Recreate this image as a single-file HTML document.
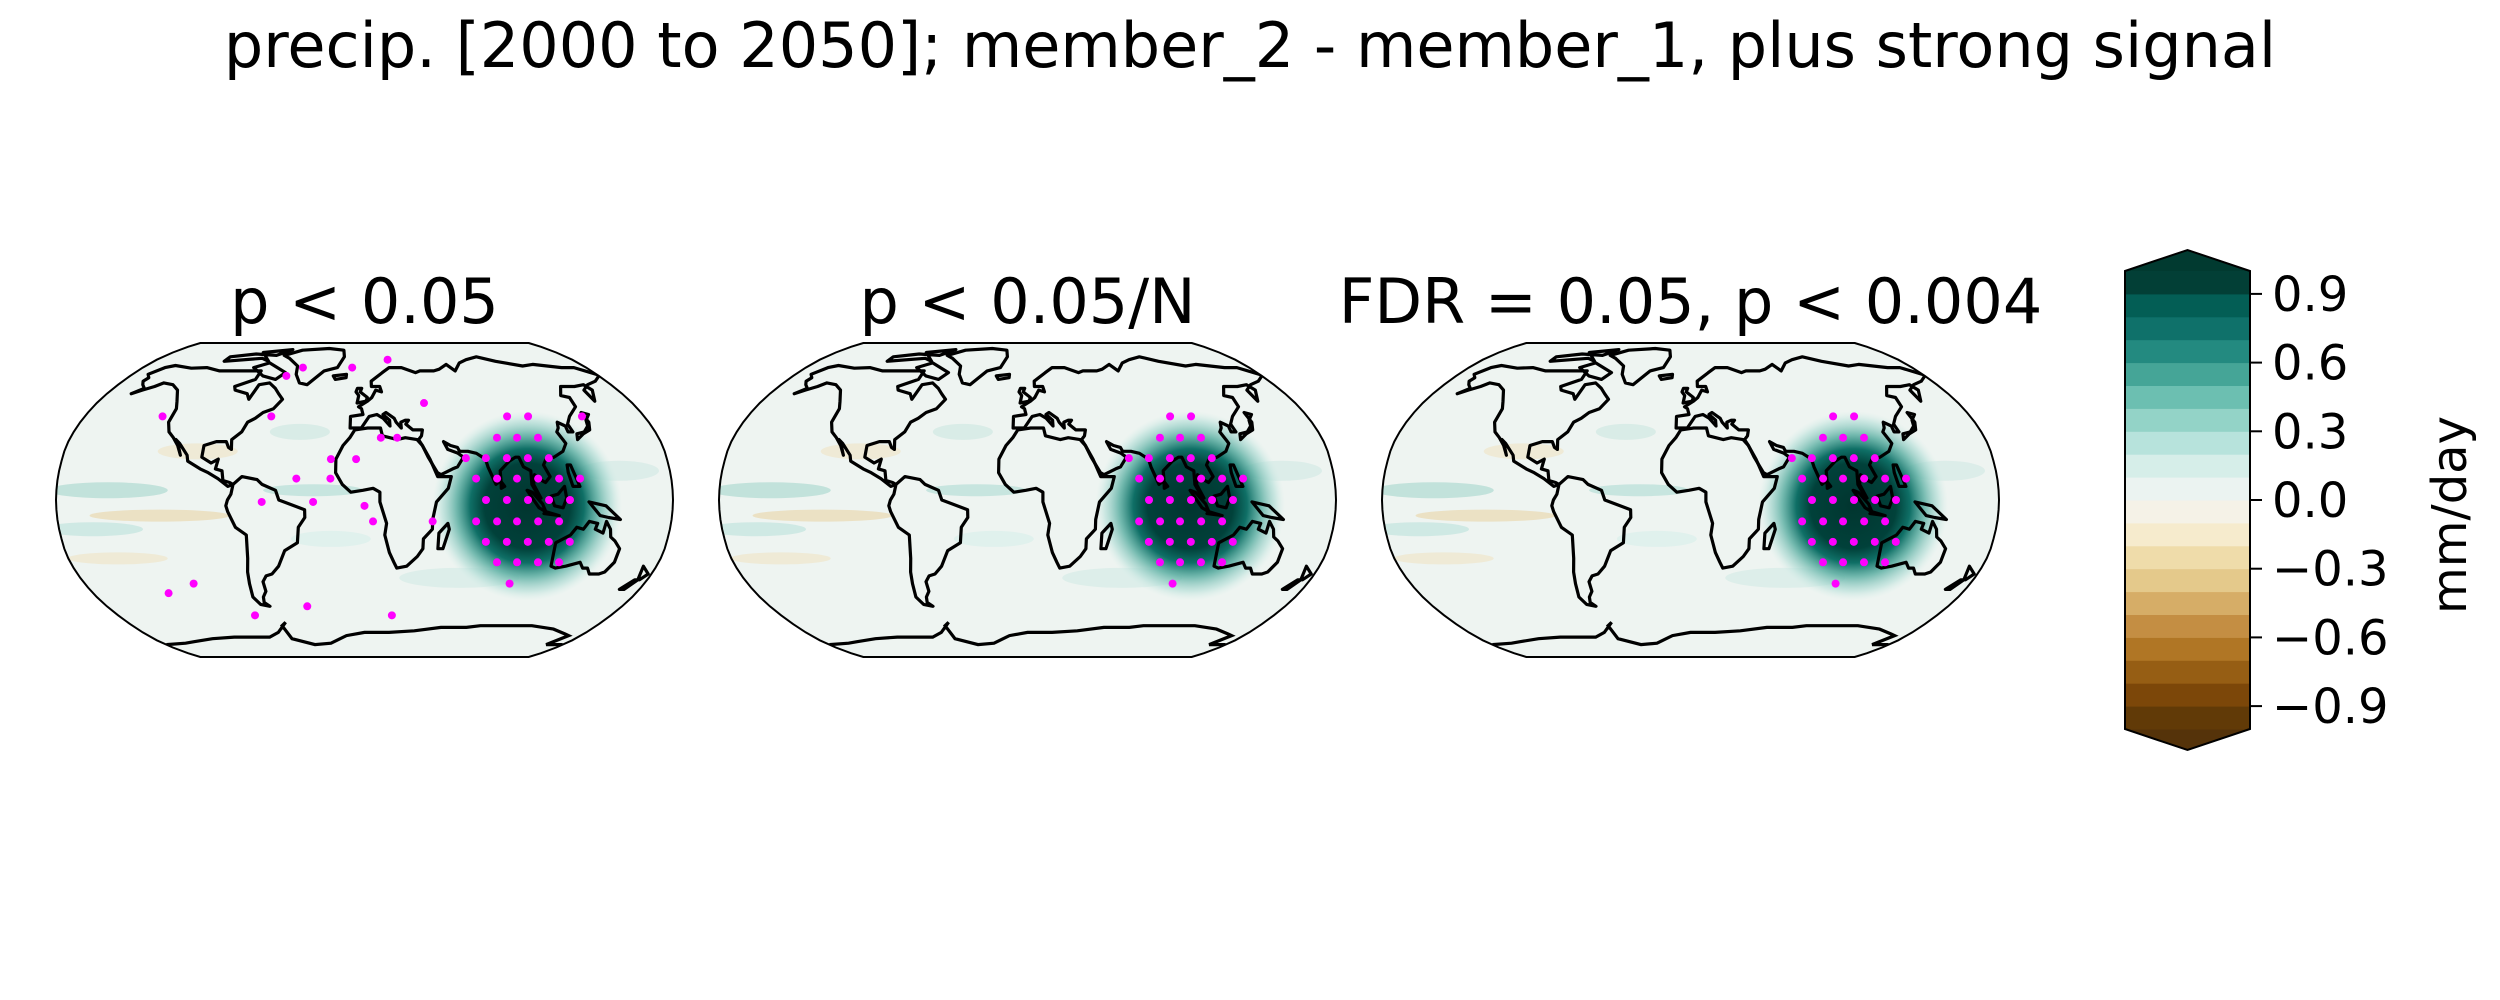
<!DOCTYPE html>
<html><head><meta charset="utf-8"><style>
html,body{margin:0;padding:0;background:#fff;width:2500px;height:1000px;overflow:hidden}
svg text{font-family:"DejaVu Sans","Liberation Sans",sans-serif;fill:#000}
</style></head><body>
<svg id="fig" width="2500" height="1000" viewBox="0 0 2500 1000" xmlns="http://www.w3.org/2000/svg">
<defs>
<radialGradient id="blobg" cx="50%" cy="50%" r="50%">
<stop offset="0" stop-color="#01352f"/><stop offset="0.45" stop-color="#01413a"/>
<stop offset="0.6" stop-color="#0f6f66"/><stop offset="0.75" stop-color="#5fb0a4" stop-opacity="0.85"/>
<stop offset="0.9" stop-color="#b3ded7" stop-opacity="0.6"/><stop offset="1" stop-color="#d6eee9" stop-opacity="0"/>
</radialGradient>
</defs>
<text x="1250" y="67" font-size="62" text-anchor="middle">precip. [2000 to 2050]; member_2 - member_1, plus strong signal</text>
<g id="maps"></g>
<g id="cbar"></g>
<text x="0" y="0" font-size="48" text-anchor="middle" transform="translate(2466,515) rotate(-90)">mm/day</text>
</svg>
<script>
const panelTitles=["p < 0.05","p < 0.05/N","FDR = 0.05, p < 0.004"];
const blobCenter=[95,-3];
const coreDots=[[91.8,43],[105.3,43],[81.1,32],[93.4,32],[106.2,32],[60.4,21.5],[72.3,21.5],[84.8,21.5],[97.3,21.5],[109.8,21.5],
[65.5,11],[77.8,11],[89.5,11],[101.9,11],[114.2,11],[126.5,11],[70.9,0],[83.1,0],[95.4,0],[107.7,0],[119.9,0],
[65.5,-11],[77.8,-11],[89.5,-11],[101.9,-11],[114.2,-11],[72.3,-21.5],[84.8,-21.5],[97.3,-21.5],[109.8,-21.5],[122.3,-21.5],
[81.1,-32],[93.4,-32],[106.2,-32],[119.1,-32],[93.4,-43]];
const extraDots1=[[-20,21],[-5,21],[10,32],[20,32],[-60,-1],[-30,-1],[-20,11],[5,-11],[40,-11],[-130,43],[-60,43],[-110,-43],[-50,70],[-10,70],[20,75],[140,43],[-80,-60],[-40,-55],[20,-60],[-130,-48],[0,-3],[-40,11],[-60,65],[40,50]];
const cbLevels=[-1,-0.9,-0.8,-0.7,-0.6,-0.5,-0.4,-0.3,-0.2,-0.1,0,0.1,0.2,0.3,0.4,0.5,0.6,0.7,0.8,0.9,1];
const cbColors=["#613a07","#7c4709","#965e14","#b07625","#c48e43","#d6ad67","#e4c98b","#efdcaa","#f6ebcd","#f5f2e7","#ebf3f1","#d6eee9","#b7e3dc","#93d3c7","#6cbfb1","#45a597","#238a80","#0f716a","#035e55","#023f36"];
const cbTicks=[-0.9,-0.6,-0.3,0,0.3,0.6,0.9];
const cbTickLabels=["−0.9","−0.6","−0.3","0.0","0.3","0.6","0.9"];

const land={
na:[[-168,66],[-162,70],[-156,71.3],[-140,69.6],[-128,70],[-115,68],[-95,68],[-82,68],[-82,63],[-94,59],[-92,57],[-82,55],[-79,52],[-77,60],[-70,61],[-64,58],[-60,55],[-56,52],[-60,47],[-66,45],[-70,42],[-74,40],[-76,35],[-81,31],[-80,26],[-82,27],[-84,30],[-90,30],[-97,28],[-97,22],[-91,19],[-87,21],[-88,16],[-84,15],[-83,10],[-79,9],[-77,8],[-80,7],[-86,11],[-92,14],[-97,16],[-105,20],[-106,23],[-112,29],[-115,31],[-110,23],[-112,27],[-117,32],[-121,35],[-124,40],[-124,47],[-127,51],[-133,57],[-140,60],[-148,61],[-152,59],[-158,57],[-163,55],[-158,58],[-162,60],[-165,62],[-164,64],[-168,66]],
gl:[[-73,78],[-60,82],[-35,83.5],[-20,82],[-18,77],[-22,70],[-32,68],[-42,60],[-48,61],[-53,66],[-55,71],[-66,76],[-73,78]],
arc:[[-120,74],[-90,76],[-82,74],[-95,80],[-70,82.5],[-80,78],[-100,79],[-120,77],[-120,74]],
baf:[[-80,73],[-62,67],[-67,63],[-78,65],[-90,70],[-80,73]],
ice:[[-24,65],[-14,66],[-14,64],[-22,63],[-24,65]],
sa:[[-77,8],[-72,12],[-63,10.5],[-60,8],[-52,5],[-50,0],[-44,-2],[-35,-5],[-35,-9],[-39,-14],[-40,-22],[-48,-26],[-53,-34],[-58,-38],[-62,-39],[-65,-42],[-65,-47],[-68,-50],[-69,-53],[-66,-55],[-72,-54],[-75,-50],[-74,-43],[-73,-37],[-71,-30],[-70,-18],[-76,-14],[-80,-6],[-81,-3],[-80,0],[-78,3],[-77,8]],
af:[[-17,21],[-13,28],[-9,32],[-6,36],[2,37],[10,37],[11,33],[20,31],[25,32],[32,31],[35,28],[39,21],[43,12],[51,12],[49,6],[42,-1],[40,-10],[40,-15],[35,-20],[35,-25],[32,-29],[26,-34],[20,-35],[18,-32],[15,-27],[12,-18],[13,-12],[9,-1],[9,4],[5,6],[-1,5],[-8,4],[-13,8],[-17,14],[-17,21]],
mad:[[44,-25],[47,-25],[50,-15],[49,-12],[44,-17],[44,-25]],
eu:[[-9,37],[-9,43],[-1,44],[-2,47],[-4,48],[2,51],[5,53],[8,57],[12,56],[11,59],[5,59],[5,62],[14,67],[20,70],[30,70],[40,67],[44,68],[55,68],[60,69],[68,72],[72,68],[80,73],[88,75],[100,77],[112,74],[130,71],[140,72],[160,70],[170,70],[180,66],[180,65],[172,62],[163,60],[156,57],[156,51],[162,57],[160,60],[152,59],[142,59],[136,54],[141,53],[140,48],[132,43],[128,39],[129,35],[126,35],[126,38],[122,40],[121,37],[119,35],[121,31],[122,29],[119,25],[113,22],[108,21],[106,18],[109,12],[106,9],[104,10],[100,13],[99,8],[103,1],[101,3],[98,8],[98,15],[94,17],[92,22],[90,22],[86,20],[80,15],[80,10],[77,8],[73,17],[72,21],[67,24],[62,25],[57,25],[56,27],[52,28],[48,30],[50,26],[56,24],[59,22],[55,17],[52,16],[45,13],[43,14],[38,22],[35,28],[33,31],[35,33],[36,36],[30,36],[26,39],[28,41],[26,41],[23,40],[23,37],[20,40],[19,42],[14,45],[12,44],[16,41],[16,38],[12,42],[8,44],[3,43],[-2,37],[-9,37]],
uk:[[-5,50],[1,51],[2,53],[-3,56],[-2,58],[-5,58],[-6,56],[-4,54],[-5,50]],
au:[[114,-22],[114,-26],[115,-34],[118,-35],[124,-34],[132,-32],[135,-35],[138,-35],[141,-38],[147,-38],[150,-37],[153,-32],[153,-25],[149,-21],[146,-19],[145,-15],[142,-11],[141,-17],[136,-15],[137,-12],[132,-11],[129,-15],[125,-14],[122,-18],[114,-22]],
sum:[[95,5],[98,4],[104,-2],[106,-6],[102,-4],[95,5]],
bor:[[109,2],[111,-3],[116,-4],[118,1],[117,7],[113,3],[109,2]],
jav:[[105,-7],[114,-8],[106,-6],[105,-7]],
ng:[[131,-1],[141,-3],[150,-10],[143,-9],[138,-8],[131,-1]],
jp:[[130,31],[135,34],[140,36],[142,40],[141,45],[145,44],[141,41],[140,38],[136,35],[131,34],[130,31]],
ph:[[120,18],[122,18],[124,12],[126,7],[122,7],[120,14],[120,18]],
nz:[[172,-34],[178,-38],[175,-41],[172,-41],[167,-46],[170,-46],[174,-41],[172,-34]],
sl:[[80,6],[82,7],[80,9.5],[80,6]]
};
const antarctica=[[-180,-78],[-160,-77],[-150,-76],[-130,-74],[-110,-73],[-100,-73],[-80,-73],[-70,-70],[-60,-64],[-64,-66],[-62,-74],[-45,-78],[-30,-77],[-15,-72],[0,-70],[20,-70],[40,-69],[60,-67],[80,-67],[90,-66],[110,-66],[130,-66],[150,-68],[165,-71],[170,-72],[165,-78],[180,-78]];
const weakBands=[[-150,5,"#9fd3c9",60,8],[-120,-8,"#e9d29e",70,6],[-30,5,"#a8d8cf",50,6],[-160,-15,"#b7e0d8",50,7],[60,-40,"#cfe9e4",60,10],[-100,25,"#f0e2c0",40,8],[150,15,"#cde8e2",40,10],[-40,35,"#c8e6df",30,8],[-150,-30,"#f0e2c0",50,6],[-20,-20,"#d6eee9",40,8]];

const RT=[[1,0],[0.9986,0.062],[0.9954,0.124],[0.99,0.186],[0.9822,0.248],[0.973,0.31],[0.96,0.372],[0.9427,0.434],[0.9216,0.4958],[0.8962,0.5571],[0.8679,0.6176],[0.835,0.6769],[0.7986,0.7346],[0.7597,0.7903],[0.7186,0.8435],[0.6732,0.8936],[0.6213,0.9394],[0.5722,0.9761],[0.5322,1]];
function rob(lat){const a=Math.min(Math.abs(lat),90)/5;const i=Math.min(Math.floor(a),17);const f=a-i;
 const X=RT[i][0]+(RT[i+1][0]-RT[i][0])*f;const Y=RT[i][1]+(RT[i+1][1]-RT[i][1])*f;return [X,Y*Math.sign(lat)];}
const HW=308.5,HH=157,CY=500;
function proj(cx,lon,lat){const r=rob(lat);return [cx+HW*r[0]*lon/180, CY-HH*r[1]];}
const NS="http://www.w3.org/2000/svg";
function mk(t,a,p){const e=document.createElementNS(NS,t);for(const k in a)e.setAttribute(k,a[k]);p.appendChild(e);return e;}
function pathOf(cx,pts,close){return pts.map((p,i)=>{const q=proj(cx,p[0],p[1]);return (i?"L":"M")+q[0].toFixed(1)+" "+q[1].toFixed(1);}).join("")+(close?"Z":"");}
function outline(cx){const pts=[];for(let la=90;la>=-90;la-=5)pts.push([180,la]);for(let la=-90;la<=90;la+=5)pts.push([-180,la]);return pathOf(cx,pts,true);}

const maps=document.getElementById("maps");
const centers=[364.5,1027.5,1690.5];
centers.forEach((cx,pi)=>{
 const g=mk("g",{},maps);
 
 
 const t=mk("text",{x:cx,y:323,"font-size":62,"text-anchor":"middle"},g);t.textContent=panelTitles[pi];
 
 
 const cp=mk("clipPath",{id:"clip"+pi},g);mk("path",{d:outline(cx)},cp);
 const fg=mk("g",{"clip-path":"url(#clip"+pi+")"},g);
 const bg=mk("path",{d:outline(cx),fill:"#eef4f1"},fg);
 
 
 weakBands.forEach(b=>{const p=proj(cx,b[0],b[1]);const e=mk("ellipse",{cx:p[0],cy:p[1],rx:b[3],ry:b[4],fill:b[2],opacity:0.55},fg);
  
  });
 const bp=proj(cx,blobCenter[0],blobCenter[1]);
 const bl=mk("ellipse",{cx:bp[0],cy:bp[1],rx:95,ry:95,fill:"url(#blobg)"},fg);
 
 
 for(const k in land){const l=mk("path",{d:pathOf(cx,land[k],true),fill:"none",stroke:"#000","stroke-width":3.2,"stroke-linejoin":"round"},fg);
  
  }
 const an=mk("path",{d:pathOf(cx,antarctica,false),fill:"none",stroke:"#000","stroke-width":3.2},fg);
 
 
 const dots=pi===0?coreDots.concat(extraDots1):coreDots;
 dots.forEach(d=>{const p=proj(cx,d[0],d[1]);const c=mk("circle",{cx:p[0],cy:p[1],r:4,fill:"#ff00ff"},fg);
  
  });
 const ol=mk("path",{d:outline(cx),fill:"none",stroke:"#000","stroke-width":2},g);
 
 
});

// colorbar
const cb=document.getElementById("cbar");
const X0=2125,X1=2250,YT=271,YB=729,XM=(X0+X1)/2,AT=250,AB=750;
function cy(v){return YB-(v-cbLevels[0])/(cbLevels[cbLevels.length-1]-cbLevels[0])*(YB-YT);}
const et=mk("path",{d:`M${X0} ${YT}L${XM} ${AT}L${X1} ${YT}Z`,fill:"#013a30"},cb);


const eb=mk("path",{d:`M${X0} ${YB}L${XM} ${AB}L${X1} ${YB}Z`,fill:"#55330a"},cb);


cbColors.forEach((c,i)=>{const y1=cy(cbLevels[i+1]),y0=cy(cbLevels[i]);
 const r=mk("rect",{x:X0,y:y1,width:X1-X0,height:y0-y1+0.5,fill:c},cb);
 
 });
mk("path",{d:`M${X0} ${YT}L${XM} ${AT}L${X1} ${YT}L${X1} ${YB}L${XM} ${AB}L${X0} ${YB}Z`,fill:"none",stroke:"#000","stroke-width":2},cb);
cbTicks.forEach((v,i)=>{const y=cy(v);
 const l=mk("line",{x1:X1,x2:X1+12,y1:y,y2:y,stroke:"#000","stroke-width":2},cb);
 
 
 const t=mk("text",{x:2272,y:y+17,"font-size":48},cb);t.textContent=cbTickLabels[i];
 
 });
</script>
</body></html>
